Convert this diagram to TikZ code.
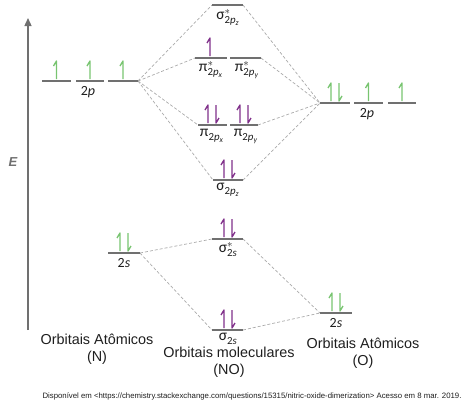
\documentclass[tikz,border=0pt]{standalone}
\usepackage{amsmath}
\usepackage{fontspec}
\usetikzlibrary{arrows.meta}
\setmainfont{Liberation Sans}
\newfontfamily\carl{Carlito}
\definecolor{egreen}{RGB}{120,196,112}
\definecolor{epurple}{RGB}{128,48,138}
\definecolor{orbgray}{RGB}{112,112,112}
\definecolor{dashgray}{RGB}{170,170,170}
\definecolor{txt}{RGB}{30,30,30}
\newcommand{\olab}[3]{#1$^{#2}_{\text{2\textit{p}}_{\text{\textit{#3}}}}$}
\newcommand{\olabs}[2]{#1$^{#2}_{\text{2\textit{s}}}$}
\tikzset{
  orb/.style={draw=orbgray, line width=1.4pt},
  link/.style={draw=dashgray, line width=0.7pt, dash pattern=on 3pt off 2pt},
  olbl/.style={font=\carl\fontsize{15.5}{16}\selectfont, text=txt, inner sep=0pt, anchor=north},
  albl/.style={font=\carl\fontsize{14}{15}\selectfont, text=txt, inner sep=0pt, anchor=north},
  big/.style={font=\fontsize{14.4}{17}\selectfont, text=txt, align=center, inner sep=0pt},
  eup/.pic={\draw[line width=1.3pt, line join=round] (0,-1) -- (0,-19) -- (-3,-14);},
  edn/.pic={\draw[line width=1.3pt, line join=round] (0,-19) -- (0,-1) -- (3,-6);}
}
\begin{document}
\begin{tikzpicture}[x=1pt,y=-1pt]
\useasboundingbox (0,0) rectangle (474,407);
% axis
\coordinate (axb) at (28,330);
\coordinate (axt) at (28,18);
\draw[orbgray, line width=1.3pt, -{Triangle[length=8pt,width=7pt]}] (axb) -- (axt);
\node[font=\bfseries\itshape\fontsize{13}{14}\selectfont, text=orbgray] (E) at (13,162) {E};

% N 2p
\coordinate (n1L) at (42,81);  \coordinate (n1R) at (71,81);
\coordinate (n2L) at (76,81);  \coordinate (n2R) at (104,81);
\coordinate (n3L) at (108,81); \coordinate (n3R) at (138,81);
% O 2p
\coordinate (o1L) at (320,103); \coordinate (o1R) at (350,103);
\coordinate (o2L) at (354,103); \coordinate (o2R) at (383,103);
\coordinate (o3L) at (388,103); \coordinate (o3R) at (416,103);
% N 2s, O 2s
\coordinate (nsL) at (108,253); \coordinate (nsR) at (140,253);
\coordinate (osL) at (320,313); \coordinate (osR) at (352,313);
% MOs
\coordinate (sszL) at (212,5);   \coordinate (sszR) at (243,5);
\coordinate (psxL) at (195,58);  \coordinate (psxR) at (227,58);
\coordinate (psyL) at (230,58);  \coordinate (psyR) at (261,58);
\coordinate (pxL) at (198,125);  \coordinate (pxR) at (227,125);
\coordinate (pyL) at (230,125);  \coordinate (pyR) at (258,125);
\coordinate (szL) at (213,180);  \coordinate (szR) at (243,180);
\coordinate (sssL) at (212,239); \coordinate (sssR) at (243,239);
\coordinate (ssL) at (212,330);  \coordinate (ssR) at (243,330);

% dashed correlation lines
\draw[link] (n3R) -- (sszL);
\draw[link] (n3R) -- (psxL);
\draw[link] (n3R) -- (pxL);
\draw[link] (n3R) -- (szL);
\draw[link] (sszR) -- (o1L);
\draw[link] (psyR) -- (o1L);
\draw[link] (pyR) -- (o1L);
\draw[link] (szR) -- (o1L);
\draw[link] (nsR) -- (sssL);
\draw[link] (nsR) -- (ssL);
\draw[link] (sssR) -- (osL);
\draw[link] (ssR) -- (osL);

% orbital levels
\foreach \a in {n1,n2,n3,o1,o2,o3,ns,os,ssz,psx,psy,px,py,sz,sss,ss}
  \draw[orb] (\a L) -- (\a R);

% electrons: atoms (green)
\pic[color=egreen] at (56.5,80) {eup};
\pic[color=egreen] at (90,80) {eup};
\pic[color=egreen] at (123,80) {eup};
\pic[color=egreen] at (331,102) {eup};
\pic[color=egreen] at (339,102) {edn};
\pic[color=egreen] at (368.5,102) {eup};
\pic[color=egreen] at (402,102) {eup};
\pic[color=egreen] at (120,252) {eup};
\pic[color=egreen] at (128,252) {edn};
\pic[color=egreen] at (332,312) {eup};
\pic[color=egreen] at (340,312) {edn};
% electrons: molecule (purple)
\pic[color=epurple] at (210,57) {eup};
\pic[color=epurple] at (208,124) {eup};
\pic[color=epurple] at (216,124) {edn};
\pic[color=epurple] at (240,124) {eup};
\pic[color=epurple] at (248,124) {edn};
\pic[color=epurple] at (224,179) {eup};
\pic[color=epurple] at (232,179) {edn};
\pic[color=epurple] at (224,238) {eup};
\pic[color=epurple] at (232,238) {edn};
\pic[color=epurple] at (224,329) {eup};
\pic[color=epurple] at (232,329) {edn};

% labels
\node[albl] (ln2p) at (88,86) {2\textit{p}};
\node[albl] (lo2p) at (367,108) {2\textit{p}};
\node[albl] (ln2s) at (124,258) {2\textit{s}};
\node[albl] (lo2s) at (336,318) {2\textit{s}};
\node[olbl] (lssz) at (228,9) {\olab{σ}{*}{z}};
\node[olbl] (lpsx) at (211,61) {\olab{π}{*}{x}};
\node[olbl] (lpsy) at (247,61) {\olab{π}{*}{y}};
\node[olbl] (lpx) at (212,129) {\olab{π}{}{x}};
\node[olbl] (lpy) at (246,129) {\olab{π}{}{y}};
\node[olbl] (lsz) at (228,183) {\olab{σ}{}{z}};
\node[olbl] (lsss) at (228,242) {\olabs{σ}{*}};
\node[olbl] (lss) at (228,333) {\olabs{σ}{}};

\node[big] (tN) at (97,349) {Orbitais Atômicos\\(N)};
\node[big] (tNO) at (229,362) {Orbitais moleculares\\(NO)};
\node[big] (tO) at (363,353) {Orbitais Atômicos\\(O)};
\node[font=\fontsize{7.8}{9}\selectfont, text=txt, inner sep=0pt] (src) at (252,396)
  {Disponível em <https://chemistry.stackexchange.com/questions/15315/nitric-oxide-dimerization> Acesso em 8 mar. 2019.};
\end{tikzpicture}
\end{document}
